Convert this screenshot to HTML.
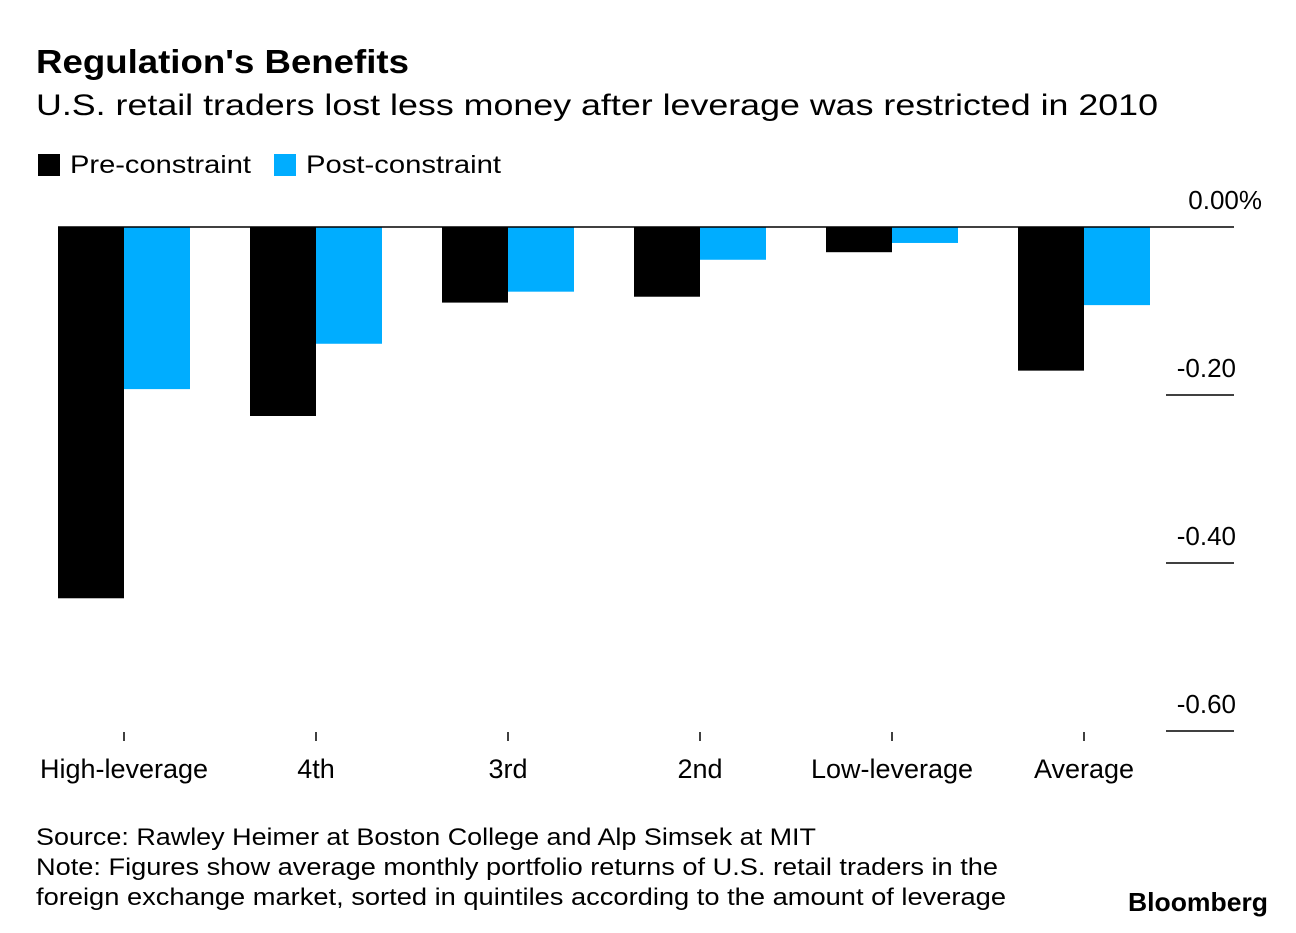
<!DOCTYPE html>
<html><head><meta charset="utf-8"><style>
body{margin:0;background:#fff;width:1296px;height:928px;overflow:hidden;font-family:"Liberation Sans",Arial,sans-serif;}
svg text{font-family:"Liberation Sans",Arial,sans-serif;}
</style></head><body>
<svg id="chart" width="1296" height="928">
<text x="36" y="73" font-size="33" font-weight="bold" fill="#000" textLength="373" lengthAdjust="spacingAndGlyphs">Regulation's Benefits</text>
<text x="36" y="115" font-size="30" fill="#000" textLength="1122" lengthAdjust="spacingAndGlyphs">U.S. retail traders lost less money after leverage was restricted in 2010</text>
<rect x="38" y="154" width="22" height="22" fill="#000"/>
<text x="70" y="173" font-size="25" textLength="181" lengthAdjust="spacingAndGlyphs">Pre-constraint</text>
<rect x="274" y="154" width="22" height="22" fill="#00adff"/>
<text x="306" y="173" font-size="25" textLength="195" lengthAdjust="spacingAndGlyphs">Post-constraint</text>
<g id="plot"></g>
<text x="36" y="845" font-size="24" textLength="780" lengthAdjust="spacingAndGlyphs">Source: Rawley Heimer at Boston College and Alp Simsek at MIT</text>
<text x="36" y="875" font-size="24" textLength="962" lengthAdjust="spacingAndGlyphs">Note: Figures show average monthly portfolio returns of U.S. retail traders in the</text>
<text x="36" y="905" font-size="24" textLength="970" lengthAdjust="spacingAndGlyphs">foreign exchange market, sorted in quintiles according to the amount of leverage</text>
<text x="1128" y="911" font-size="26" font-weight="bold" textLength="140" lengthAdjust="spacingAndGlyphs">Bloomberg</text>
</svg>
<script>
const categories=["High-leverage","4th","3rd","2nd","Low-leverage","Average"];
const preValues=[-0.442,-0.225,-0.090,-0.083,-0.030,-0.171];
const postValues=[-0.193,-0.139,-0.077,-0.039,-0.019,-0.093];
const tickValues=[0,-0.2,-0.4,-0.6];
const tickLabels=["0.00%","-0.20","-0.40","-0.60"];
const NS="http://www.w3.org/2000/svg";
const g=document.getElementById('plot');
const y=v=>227-v*840;
const xc=i=>124+i*192;
const bw=66;
function mk(t,a){const e=document.createElementNS(NS,t);for(const k in a)e.setAttribute(k,a[k]);g.appendChild(e);return e;}
tickValues.forEach((v,i)=>{
  if(i>0){const l=mk('line',{x1:1166,x2:1234,y1:y(v),y2:y(v),stroke:'#000','stroke-width':1.5});
  
  }
  const t=mk('text',{x:1236,y:y(v)-18,'font-size':26,'text-anchor':'end'});
  if(i===0){t.setAttribute('x',1262);}
  t.textContent=tickLabels[i];
  
  
});
categories.forEach((c,i)=>{
  const b1=mk('rect',{x:xc(i)-bw,y:y(0),width:bw,height:y(preValues[i])-y(0),fill:'#000'});
  
  
  const b2=mk('rect',{x:xc(i),y:y(0),width:bw,height:y(postValues[i])-y(0),fill:'#00adff'});
  
  
  const tk=mk('line',{x1:xc(i),x2:xc(i),y1:732,y2:741,stroke:'#000','stroke-width':1.5});
  
  
  const t=mk('text',{x:xc(i),y:778,'font-size':27,'text-anchor':'middle'});
  t.textContent=c;
  
  
});
const z=mk('line',{x1:58,x2:1234,y1:y(0),y2:y(0),stroke:'#000','stroke-width':1.5});


</script>
</body></html>
